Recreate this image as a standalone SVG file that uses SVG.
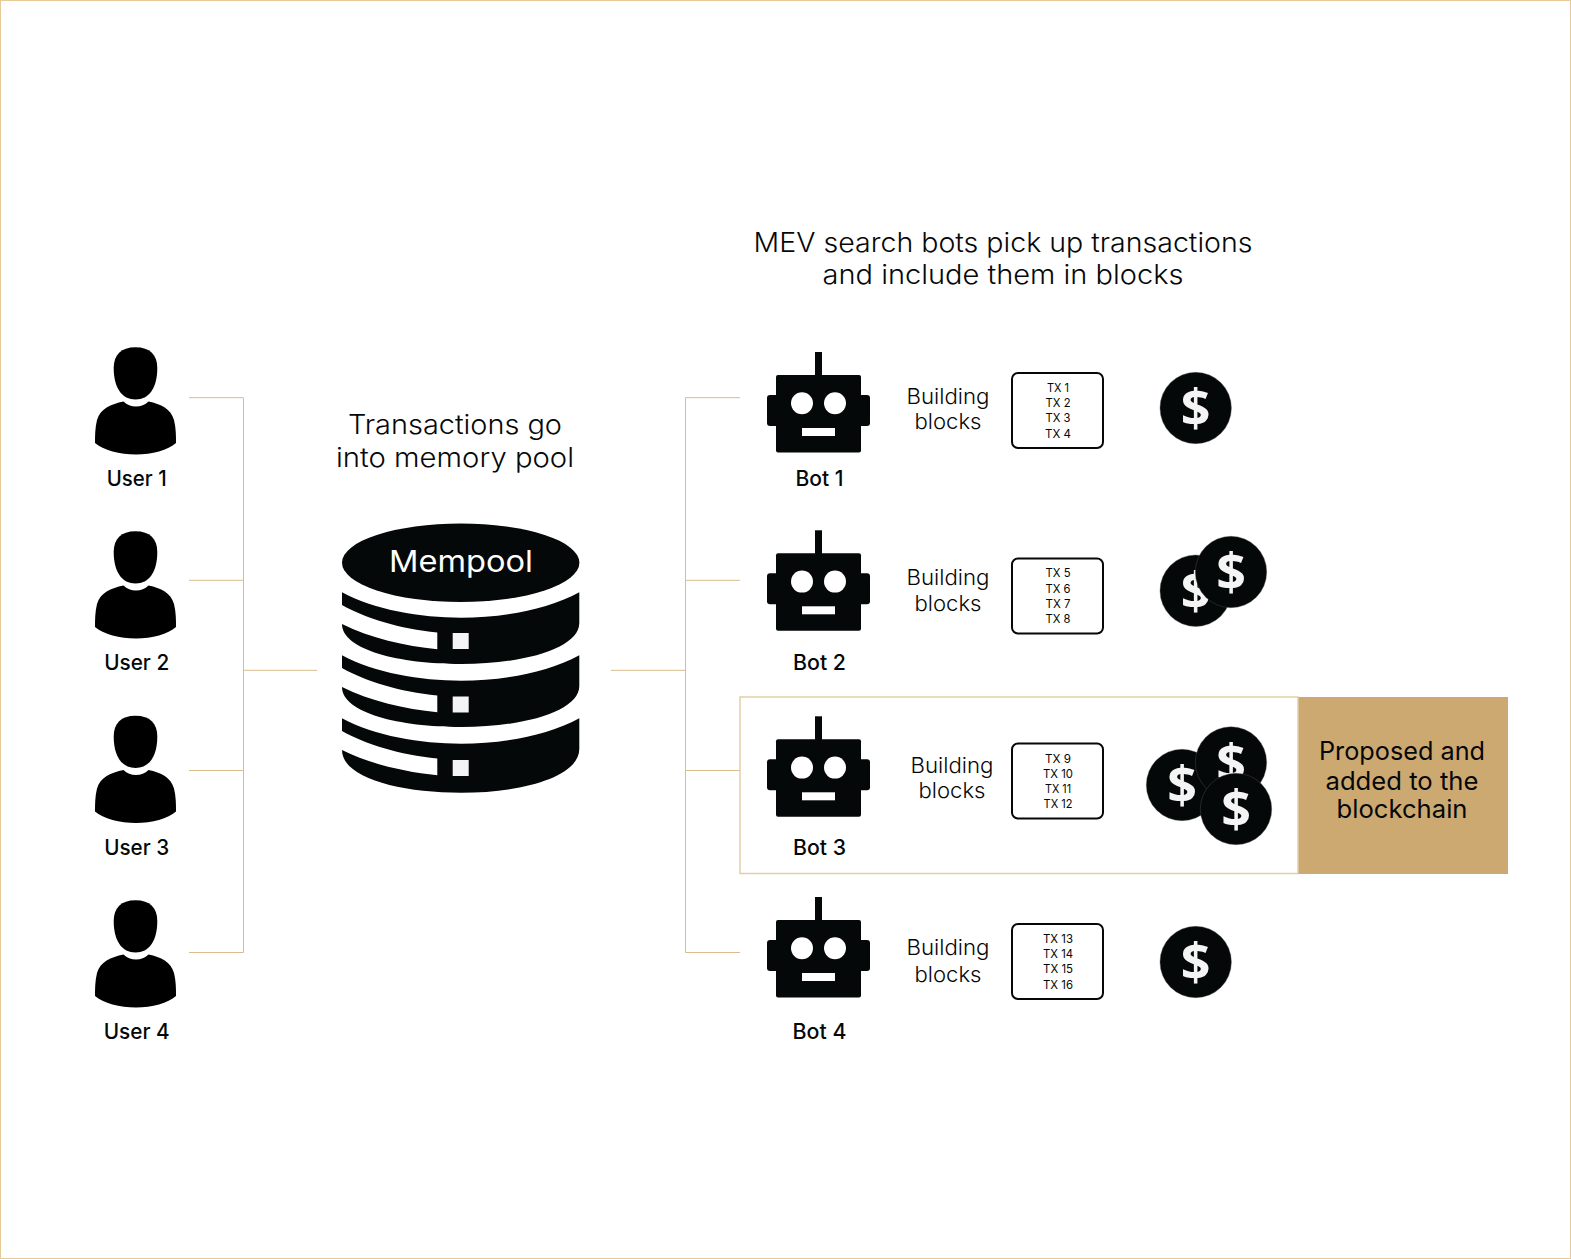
<svg xmlns="http://www.w3.org/2000/svg" width="1571" height="1259" viewBox="0 0 1571 1259">
<style>
text{font-family:Inter,"Liberation Sans",sans-serif;fill:#050808;text-anchor:middle}
.h{font-size:27px;font-weight:300}
.b{font-size:22px;font-weight:300}
.l{font-size:21px;font-weight:500}
.t{font-size:12px;font-weight:400}
.g{font-size:25px;font-weight:400}
.c{fill:none;stroke:#d9bd8c;stroke-width:1}
.box{fill:#fff;stroke:#050808;stroke-width:2}
.d{font-family:"Open Sans","Liberation Sans",sans-serif;font-size:52px;font-weight:700;fill:#f4f4f4}
</style>
<defs>
<g id="person" fill="#000"><path d="M135.5 347.3C150 347.3 157.3 355 157.3 368C157.3 388 149 399.5 135.5 399.5S113.7 388 113.7 368C113.7 355 121 347.3 135.5 347.3Z"/><path d="M123.5 401.5C127 405 131 406.5 136 406.5S145 405 148.5 401.5C161 404 171 409 174 420C176 428 176 436 176 443C168 450 152 454.5 136 454.5S103 450 95 443C95 436 95 428 97 420C100 409 111 404 123.5 401.5Z"/></g>
<g id="robot" fill="#050808"><rect x="815" y="352" width="7" height="24"/><rect x="776" y="375" width="85" height="77.5" rx="2"/><rect x="767" y="395" width="103" height="31" rx="3"/><circle cx="802" cy="403.3" r="11" fill="#fff"/><circle cx="835" cy="403.3" r="11" fill="#fff"/><rect x="802" y="428" width="33" height="8" fill="#fff"/></g>
<g id="coin"><circle cx="0" cy="0" r="35.7" fill="#050808" stroke="#555" stroke-width=".4"/><text class="d" x="0" y="19">$</text></g>
<path id="layer" d="M342 592.3C375 610 420 617.7 461 617.7S547 610 579.3 592.3V623C579.3 648 525 664 461 664C400 664 342 650 342 624V624C370 638 405 646 437.3 649.3V632.5C400 629 365 618 342 605Z" fill="#050808"/>
<path id="layerlast" d="M342 592.3C375 610 420 617.7 461 617.7S547 610 579.3 592.3V623C579.3 650 525 666.7 461 666.7C400 666.7 342 652 342 624V624C370 638 405 646 437.3 649.3V632.5C400 629 365 618 342 605Z" fill="#050808"/>
</defs>
<rect x=".5" y=".5" width="1570" height="1258" fill="#fff" stroke="#e8c99a"/>
<g id="connectors">
<path class="c" d="M189 397.7H243.5V952.5H189M189 580.3H243.5M189 770.5H243.5M243.5 670.3H317"/>
<path class="c" d="M611 670.3H685.5M740 397.7H685.5V952.5H740M685.5 580.3H740M685.5 770.5H740"/>
</g>
<g id="title-mempool"><text class="h" x="455" y="434" textLength="214" lengthAdjust="spacingAndGlyphs">Transactions go</text><text class="h" x="455" y="467" textLength="238" lengthAdjust="spacingAndGlyphs">into memory pool</text></g>
<g id="title-bots"><text class="h" x="1003" y="251.5" textLength="499" lengthAdjust="spacingAndGlyphs">MEV search bots pick up transactions</text><text class="h" x="1003" y="284" textLength="361" lengthAdjust="spacingAndGlyphs">and include them in blocks</text></g>
<g id="user1"><use href="#person"/><text class="l" x="136.7" y="486" textLength="60" lengthAdjust="spacingAndGlyphs">User 1</text></g>
<g id="user2"><use href="#person" y="184"/><text class="l" x="136.7" y="670" textLength="65" lengthAdjust="spacingAndGlyphs">User 2</text></g>
<g id="user3"><use href="#person" y="368.5"/><text class="l" x="136.7" y="855" textLength="65" lengthAdjust="spacingAndGlyphs">User 3</text></g>
<g id="user4"><use href="#person" y="553"/><text class="l" x="136.7" y="1039" textLength="66" lengthAdjust="spacingAndGlyphs">User 4</text></g>
<g id="mempool">
<ellipse cx="460.7" cy="562.7" rx="118.7" ry="39.3" fill="#050808"/>
<use href="#layer"/><use href="#layer" y="63"/><use href="#layerlast" y="126"/>
<g fill="#f4f4f4"><rect x="452.7" y="633" width="16" height="16"/><rect x="452.7" y="696.5" width="16" height="16"/><rect x="452.7" y="760" width="16" height="16"/></g>
<text x="461" y="572" style="fill:#fff;font-size:30px;font-weight:400" textLength="144" lengthAdjust="spacingAndGlyphs">Mempool</text>
</g>
<g id="highlight"><rect x="740" y="697" width="558" height="176.5" fill="#fff" stroke="#e2cfa6" stroke-width="1.5"/></g>
<g id="proposed"><rect x="1298.5" y="697" width="209.5" height="177" fill="#cda972"/>
<text class="g" x="1402" y="760" textLength="166" lengthAdjust="spacingAndGlyphs">Proposed and</text><text class="g" x="1402" y="789.5" textLength="153" lengthAdjust="spacingAndGlyphs">added to the</text><text class="g" x="1402" y="817.5" textLength="131" lengthAdjust="spacingAndGlyphs">blockchain</text></g>
<g id="bot1"><use href="#robot"/><text class="l" x="819.5" y="486" textLength="48" lengthAdjust="spacingAndGlyphs">Bot 1</text>
<text class="b" x="948" y="403.5" textLength="83" lengthAdjust="spacingAndGlyphs">Building</text><text class="b" x="948" y="428.5" textLength="67" lengthAdjust="spacingAndGlyphs">blocks</text>
<rect class="box" x="1012" y="373" width="91" height="75" rx="6"/>
<text class="t" x="1058" y="391.7" textLength="22" lengthAdjust="spacingAndGlyphs">TX 1</text><text class="t" x="1058" y="406.7" textLength="25" lengthAdjust="spacingAndGlyphs">TX 2</text><text class="t" x="1058" y="422" textLength="25" lengthAdjust="spacingAndGlyphs">TX 3</text><text class="t" x="1058" y="438" textLength="26" lengthAdjust="spacingAndGlyphs">TX 4</text>
<use href="#coin" x="1195.7" y="408"/></g>
<g id="bot2"><use href="#robot" y="178.3"/><text class="l" x="819.5" y="670" textLength="53" lengthAdjust="spacingAndGlyphs">Bot 2</text>
<text class="b" x="948" y="585" textLength="83" lengthAdjust="spacingAndGlyphs">Building</text><text class="b" x="948" y="611" textLength="67" lengthAdjust="spacingAndGlyphs">blocks</text>
<rect class="box" x="1012" y="558.5" width="91" height="75" rx="6"/>
<text class="t" x="1058" y="577" textLength="25" lengthAdjust="spacingAndGlyphs">TX 5</text><text class="t" x="1058" y="593" textLength="25" lengthAdjust="spacingAndGlyphs">TX 6</text><text class="t" x="1058" y="608" textLength="25" lengthAdjust="spacingAndGlyphs">TX 7</text><text class="t" x="1058" y="623" textLength="25" lengthAdjust="spacingAndGlyphs">TX 8</text>
<use href="#coin" x="1195.7" y="590.7"/><use href="#coin" x="1231" y="572"/></g>
<g id="bot3"><use href="#robot" y="364.3"/><text class="l" x="819.5" y="855" textLength="53" lengthAdjust="spacingAndGlyphs">Bot 3</text>
<text class="b" x="952" y="772.5" textLength="83" lengthAdjust="spacingAndGlyphs">Building</text><text class="b" x="952" y="798" textLength="67" lengthAdjust="spacingAndGlyphs">blocks</text>
<rect class="box" x="1012" y="743.5" width="91" height="75" rx="6"/>
<text class="t" x="1058" y="763" textLength="26" lengthAdjust="spacingAndGlyphs">TX 9</text><text class="t" x="1058" y="778" textLength="30" lengthAdjust="spacingAndGlyphs">TX 10</text><text class="t" x="1058" y="793" textLength="26" lengthAdjust="spacingAndGlyphs">TX 11</text><text class="t" x="1058" y="808" textLength="29" lengthAdjust="spacingAndGlyphs">TX 12</text>
<use href="#coin" x="1182" y="785"/><use href="#coin" x="1231" y="762.5"/><use href="#coin" x="1236" y="809"/></g>
<g id="bot4"><use href="#robot" y="545"/><text class="l" x="819.5" y="1039" textLength="54" lengthAdjust="spacingAndGlyphs">Bot 4</text>
<text class="b" x="948" y="955" textLength="83" lengthAdjust="spacingAndGlyphs">Building</text><text class="b" x="948" y="982" textLength="67" lengthAdjust="spacingAndGlyphs">blocks</text>
<rect class="box" x="1012" y="924" width="91" height="75" rx="6"/>
<text class="t" x="1058" y="943" textLength="30" lengthAdjust="spacingAndGlyphs">TX 13</text><text class="t" x="1058" y="958" textLength="30" lengthAdjust="spacingAndGlyphs">TX 14</text><text class="t" x="1058" y="973" textLength="30" lengthAdjust="spacingAndGlyphs">TX 15</text><text class="t" x="1058" y="989" textLength="30" lengthAdjust="spacingAndGlyphs">TX 16</text>
<use href="#coin" x="1195.7" y="962"/></g>
</svg>
